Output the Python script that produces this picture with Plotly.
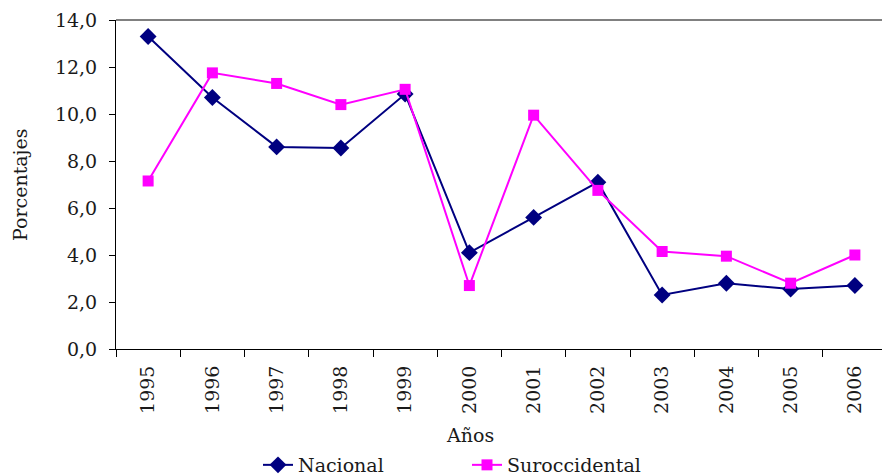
import plotly.graph_objects as go

years = ["1995", "1996", "1997", "1998", "1999", "2000", "2001", "2002", "2003", "2004", "2005", "2006"]
nacional = [13.3, 10.7, 8.6, 8.55, 10.85, 4.1, 5.6, 7.1, 2.3, 2.8, 2.55, 2.7]
suroccidental = [7.15, 11.75, 11.3, 10.4, 11.05, 2.7, 9.95, 6.75, 4.15, 3.95, 2.8, 4.0]
y_ticks = [0, 2, 4, 6, 8, 10, 12, 14]

FONT = "DejaVu Serif"
FS = 19
OFF = 8  # page body margin
W, H = 890 - OFF, 475 - OFF
L, T = 116 - OFF, 20 - OFF
R = W - (887 - OFF)
B = H - (349 - OFF)
PW, PH = W - L - R, H - T - B


def px(x):
    return (x - OFF - L) / PW


def py(y):
    return (H - B - (y - OFF)) / PH


fig = go.Figure()
fig.add_trace(go.Scatter(
    x=years, y=nacional, name="Nacional", mode="lines+markers",
    line=dict(color="#000080", width=2),
    marker=dict(symbol="diamond", size=13, color="#000080"),
))
fig.add_trace(go.Scatter(
    x=years, y=suroccidental, name="Suroccidental", mode="lines+markers",
    line=dict(color="#FF00FF", width=2),
    marker=dict(symbol="square", size=11, color="#FF00FF"),
))

fig.update_layout(
    width=W, height=H,
    margin=dict(l=L, r=R, t=T, b=B, autoexpand=False),
    paper_bgcolor="white", plot_bgcolor="white",
    font=dict(family=FONT, size=FS, color="#1a1a1a"),
    separators=",.",
    showlegend=True,
    legend=dict(orientation="h", xref="paper", yref="paper",
                x=px(258), xanchor="left",
                y=py(465), yanchor="middle",
                font=dict(size=FS), entrywidth=164, entrywidthmode="pixels",
                tracegroupgap=0),
    xaxis=dict(
        type="category", showgrid=False, showline=True, linecolor="black", linewidth=1,
        ticks="outside", ticklen=7, tickcolor="black", tickson="boundaries",
        tickangle=-90, ticklabelstandoff=8, tickfont=dict(size=FS),
        range=[-0.5, 11.5], automargin=False,
    ),
    yaxis=dict(
        range=[0, 14], tickvals=y_ticks, tickformat=".1f",
        showgrid=False, showline=True, linecolor="black", linewidth=1,
        ticks="outside", ticklen=6, tickcolor="black", tickfont=dict(size=FS),
        zeroline=False, ticklabelstandoff=8, automargin=False,
    ),
    shapes=[
        dict(type="line", xref="paper", yref="paper", x0=0, x1=1, y0=1, y1=1,
             line=dict(color="#808080", width=2)),
        dict(type="line", xref="paper", yref="paper", x0=1, x1=1, y0=0, y1=1,
             line=dict(color="#808080", width=2)),
    ],
    annotations=[
        dict(text="Años", xref="paper", yref="paper",
             x=px(470), y=py(435),
             xanchor="center", yanchor="middle", showarrow=False, font=dict(size=FS)),
        dict(text="Porcentajes", xref="paper", yref="paper",
             x=px(20), y=py(185),
             xanchor="center", yanchor="middle", showarrow=False, textangle=-90,
             font=dict(size=FS)),
    ],
)

fig.write_html("out.html")
